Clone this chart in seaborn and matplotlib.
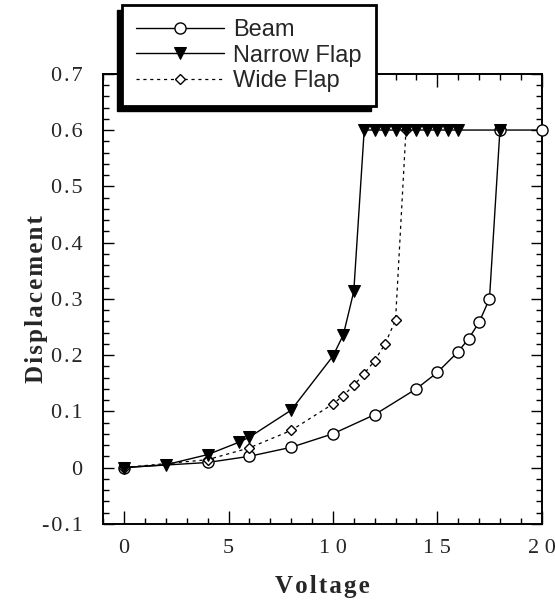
import numpy as np
import seaborn as sns
import matplotlib
matplotlib.use("Agg")
import matplotlib.pyplot as plt
from matplotlib.patches import Rectangle
from matplotlib.ticker import MultipleLocator, FixedLocator

# values
beam_v = [0, 4, 6, 8, 10, 12, 14, 15, 16, 16.5, 17, 17.5, 18, 20]
beam_d = [0, 0.009, 0.02, 0.036, 0.06, 0.094, 0.14, 0.169, 0.206, 0.229, 0.258, 0.30, 0.60, 0.60]

narrow_v = [0, 2, 4, 5.5, 6, 8, 10, 10.5, 11, 11.5, 12, 12.5, 13, 13.5, 14, 14.5, 15, 15.5, 16, 18]
narrow_d = [0, 0.005, 0.023, 0.045, 0.054, 0.102, 0.198, 0.236, 0.313,
            0.60, 0.60, 0.60, 0.60, 0.60, 0.60, 0.60, 0.60, 0.60, 0.60, 0.60]

wide_v = [0, 4, 6, 8, 10, 10.5, 11, 11.5, 12, 12.5, 13, 13.5]
wide_d = [0, 0.014, 0.035, 0.066, 0.113, 0.128, 0.146, 0.167, 0.19, 0.22, 0.262, 0.60]

x_ticks = [0, 5, 10, 15, 20]
y_ticks = [-0.1, 0, 0.1, 0.2, 0.3, 0.4, 0.5, 0.6, 0.7]


def spaced(s, sep="\u200a"):
    # the original labels are letter-spaced
    return sep.join(s)


sns.set_style("ticks")
plt.rcParams["font.family"] = ["Liberation Serif", "DejaVu Serif"]

fig = plt.figure(figsize=(5.55, 6.0), dpi=100)
ax = fig.add_axes([0.186, 0.127, 0.79, 0.75])

sns.lineplot(x=beam_v, y=beam_d, ax=ax, color="black", lw=1.0, marker="o",
             markersize=8, markerfacecolor="white", markeredgecolor="black",
             markeredgewidth=1.0, label="Beam", clip_on=False, zorder=3)
sns.lineplot(x=narrow_v, y=narrow_d, ax=ax, color="black", lw=1.0, marker="v",
             markersize=9, markerfacecolor="black", markeredgecolor="black",
             label="Narrow Flap", clip_on=False, zorder=4)
sns.lineplot(x=wide_v, y=wide_d, ax=ax, color="black", lw=0.9, marker="D",
             markersize=5.5, markerfacecolor="white", markeredgecolor="black",
             markeredgewidth=1.0, linestyle=(0, (2.5, 3)), label="Wide Flap",
             zorder=3)
ax.get_legend().remove()

ax.set_xlim(-1, 20)
ax.set_ylim(-0.1, 0.7)
ax.xaxis.set_major_locator(FixedLocator(x_ticks))
ax.xaxis.set_minor_locator(MultipleLocator(1))
ax.yaxis.set_major_locator(FixedLocator(y_ticks))
ax.yaxis.set_minor_locator(MultipleLocator(0.02))
ax.set_xticklabels([spaced(str(t), " ") for t in x_ticks])
ax.set_yticklabels([spaced("0" if abs(t) < 1e-9 else "%g" % t) for t in y_ticks])

ax.tick_params(which="both", direction="in", top=True, right=True,
               color="black", width=1.0)
ax.tick_params(axis="x", which="major", length=9.5, labelsize=16, pad=11)
ax.tick_params(axis="y", which="major", length=8, labelsize=16, pad=15)
ax.tick_params(which="minor", length=4.5)
for sp in ax.spines.values():
    sp.set_linewidth(1.4)
    sp.set_color("black")

ax.set_xlabel(spaced("Voltage"), fontsize=18, fontweight="bold", labelpad=12)
ax.set_ylabel(spaced("Displacement"), fontsize=18, fontweight="bold", labelpad=-5)

# legend with a dark drop shadow to the lower left
handles, labels = ax.get_legend_handles_labels()
leg = fig.legend(handles, labels, loc="upper left",
                 bbox_to_anchor=(122 / 555, 1 - 5 / 600),
                 bbox_transform=fig.transFigure, borderaxespad=0,
                 prop={"family": ["Liberation Sans", "DejaVu Sans"], "size": 17},
                 handlelength=3.7, handletextpad=0.42, labelspacing=0.15,
                 borderpad=0.6, fancybox=False, framealpha=1,
                 edgecolor="black")
leg.get_frame().set_linewidth(2)
leg.set_zorder(10)

fig.canvas.draw()
bb = leg.get_window_extent()
off = 5
shadow = Rectangle((bb.x0 - off, bb.y0 - off), bb.width, bb.height,
                   transform=None, facecolor="black", edgecolor="black",
                   zorder=9)
fig.patches.append(shadow)

fig.savefig("out.png", dpi=100, facecolor="white")
